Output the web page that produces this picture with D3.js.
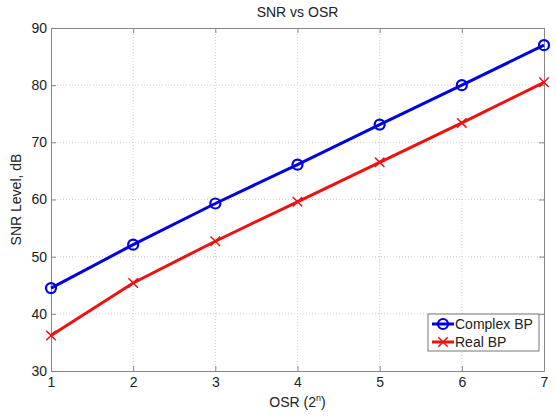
<!DOCTYPE html>
<html lang="en">
  <head>
    <meta charset="utf-8" />
    <title>SNR vs OSR</title>
    <script src="https://cdnjs.cloudflare.com/ajax/libs/d3/7.8.5/d3.min.js"></script>
    <style>
      body {
        margin: 0;
        background: #fff;
        font-family: "Liberation Sans", Arial, sans-serif;
      }
      .grid line {
        stroke: #cfcfcf;
        stroke-dasharray: 1, 2;
      }
      .tick text {
        font-size: 14px;
        fill: #222;
      }
    </style>
  </head>
  <body>
    <div id="chart"></div>
    <script>
      // data
      const osr = [1, 2, 3, 4, 5, 6, 7];
      const complexBP = [44.5, 52.1, 59.3, 66.1, 73.1, 80.0, 87.0];
      const realBP = [36.2, 45.4, 52.7, 59.6, 66.5, 73.4, 80.5];
      const yTicks = [30, 40, 50, 60, 70, 80, 90];

      const width = 556,
        height = 417;
      const margin = { top: 28, right: 12, bottom: 46, left: 51 };

      const svg = d3
        .select("#chart")
        .append("svg")
        .attr("width", width)
        .attr("height", height);

      const x = d3
        .scaleLinear()
        .domain([1, 7])
        .range([margin.left, width - margin.right]);
      const y = d3
        .scaleLinear()
        .domain([30, 90])
        .range([height - margin.bottom, margin.top]);

      // grid
      svg
        .append("g")
        .attr("class", "grid")
        .selectAll("line.v")
        .data(osr.slice(1, -1))
        .join("line")
        .attr("x1", (d) => x(d))
        .attr("x2", (d) => x(d))
        .attr("y1", y(30))
        .attr("y2", y(90));
      svg
        .select(".grid")
        .selectAll("line.h")
        .data(yTicks.slice(1, -1))
        .join("line")
        .attr("class", "h")
        .attr("x1", x(1))
        .attr("x2", x(7))
        .attr("y1", (d) => y(d))
        .attr("y2", (d) => y(d));

      // axes
      const xAxis = svg
        .append("g")
        .attr("transform", `translate(0,${y(30)})`)
        .call(d3.axisBottom(x).tickValues(osr).tickFormat(d3.format("d")).tickSizeInner(-5).tickSizeOuter(0).tickPadding(8));
      const yAxis = svg
        .append("g")
        .attr("transform", `translate(${x(1)},0)`)
        .call(d3.axisLeft(y).tickValues(yTicks).tickSizeInner(-5).tickSizeOuter(0).tickPadding(4));
      svg
        .append("g")
        .attr("transform", `translate(0,${y(90)})`)
        .call(d3.axisTop(x).tickValues(osr).tickFormat("").tickSizeInner(-5).tickSizeOuter(0));
      svg
        .append("g")
        .attr("transform", `translate(${x(7)},0)`)
        .call(d3.axisRight(y).tickValues(yTicks).tickFormat("").tickSizeInner(-5).tickSizeOuter(0));
      svg.selectAll(".domain, .tick line").attr("stroke", "#888");
      xAxis.selectAll(".tick text").attr("dy", "0.6em");

      // lines
      const line = d3
        .line()
        .x((d, i) => x(osr[i]))
        .y((d) => y(d));

      svg
        .append("path")
        .datum(complexBP)
        .attr("fill", "none")
        .attr("stroke", "#0000e0")
        .attr("stroke-width", 3)
        .attr("d", line);
      svg
        .append("path")
        .datum(realBP)
        .attr("fill", "none")
        .attr("stroke", "#ee1111")
        .attr("stroke-width", 3)
        .attr("d", line);

      // markers
      svg
        .selectAll("circle.cpx")
        .data(complexBP)
        .join("circle")
        .attr("cx", (d, i) => x(osr[i]))
        .attr("cy", (d) => y(d))
        .attr("r", 5)
        .attr("fill", "none")
        .attr("stroke", "#0000e0")
        .attr("stroke-width", 2.2);

      const cross = d3.symbol().type(d3.symbolX).size(60);
      svg
        .selectAll("path.real")
        .data(realBP)
        .join("path")
        .attr("d", cross)
        .attr("transform", (d, i) => `translate(${x(osr[i])},${y(d)})`)
        .attr("fill", "#ee1111")
        .attr("stroke", "#ee1111")
        .attr("stroke-width", 1.5);

      // title & labels
      svg
        .append("text")
        .attr("x", (x(1) + x(7)) / 2)
        .attr("y", 17)
        .attr("text-anchor", "middle")
        .attr("font-size", 14)
        .attr("fill", "#222")
        .text("SNR vs OSR");

      const xl = svg
        .append("text")
        .attr("x", (x(1) + x(7)) / 2)
        .attr("y", 407)
        .attr("text-anchor", "middle")
        .attr("font-size", 14)
        .attr("fill", "#222");
      xl.append("tspan").text("OSR (2");
      xl.append("tspan").attr("font-size", 9).attr("dy", -6).text("n");
      xl.append("tspan").attr("dy", 6).text(")");

      svg
        .append("text")
        .attr("transform", `translate(21,${(y(30) + y(90)) / 2}) rotate(-90)`)
        .attr("text-anchor", "middle")
        .attr("font-size", 14)
        .attr("fill", "#222")
        .text("SNR Level, dB");

      // legend
      const legend = svg.append("g").attr("transform", "translate(428,314)");
      legend
        .append("rect")
        .attr("width", 111)
        .attr("height", 37)
        .attr("fill", "#fff")
        .attr("stroke", "#777");
      const items = [
        { name: "Complex BP", color: "#0000e0", mark: "o" },
        { name: "Real BP", color: "#ee1111", mark: "x" },
      ];
      items.forEach((it, i) => {
        const g = legend.append("g").attr("transform", `translate(0,${10 + i * 18})`);
        g.append("line")
          .attr("x1", 4)
          .attr("x2", 26)
          .attr("stroke", it.color)
          .attr("stroke-width", 3);
        if (it.mark === "o") {
          g.append("circle")
            .attr("cx", 15)
            .attr("r", 5)
            .attr("fill", "none")
            .attr("stroke", it.color)
            .attr("stroke-width", 2.2);
        } else {
          g.append("path")
            .attr("d", cross)
            .attr("transform", "translate(15,0)")
            .attr("fill", it.color)
            .attr("stroke", it.color)
            .attr("stroke-width", 1.5);
        }
        g.append("text")
          .attr("x", 27)
          .attr("y", 5)
          .attr("font-size", 14)
          .attr("fill", "#222")
          .text(it.name);
      });
    </script>
  </body>
</html>
